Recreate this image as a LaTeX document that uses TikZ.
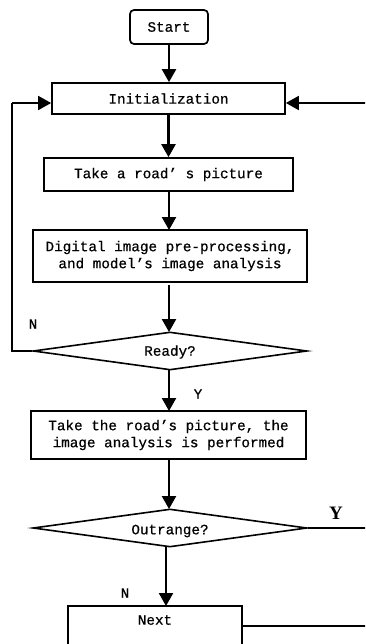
\documentclass[tikz,border=0pt]{standalone}
\usepackage{fontspec}
\newfontfamily\lblfont[FakeBold=0.6]{Liberation Mono}
\newfontfamily\yfont{Liberation Serif}
\usetikzlibrary{arrows.meta,shapes.geometric}
\begin{document}
\begin{tikzpicture}[x=1pt,y=-1pt,
  every node/.style={font=\lblfont\fontsize{14.3}{17}\selectfont,inner sep=0pt},
  box/.style={draw,line width=1.7pt,rectangle},
  dia/.style={draw,line width=1.6pt,diamond,aspect=7},
  flow/.style={line width=2.4pt,-{Triangle[length=13pt,width=14pt]}},
  loop/.style={line width=1.5pt}]
\useasboundingbox (0,0) rectangle (365,644);
\fill[white] (0,0) rectangle (365,644);
\clip (0,0) rectangle (365,644);

\node[box,rounded corners=4pt,minimum width=78pt,minimum height=34pt] (start) at (169,27) {Start};
\node[box,minimum width=233pt,minimum height=31pt] (init) at (168.5,98.5) {Initialization};
\node[box,minimum width=249pt,minimum height=33pt] (take) at (168.5,174.5) {Take a road’ s picture};
\node[box,minimum width=274pt,minimum height=52pt,align=center] (dig) at (170,256) {Digital image pre-processing,\\and model’s image analysis};
\node[dia,minimum width=274pt,minimum height=38pt] (ready) at (170,351) {};
\node (readyt) at (170,352) {Ready?};
\node[box,minimum width=275pt,minimum height=48pt,align=center] (road) at (168.5,435) {Take the road’s picture, the\\image analysis is performed};
\node[dia,minimum width=274pt,minimum height=38pt] (out) at (170,528) {};
\node (outt) at (170,531) {Outrange?};
\node[box,minimum width=174pt,minimum height=80pt] (next) at (155,646) {};
\node (nextt) at (155,620) {Next};

\coordinate (rin) at (366,103);
\coordinate (lft) at (12,351);
\coordinate (rout) at (366,528);
\coordinate (rnext) at (366,626);
\coordinate (oa) at (166,547);

\draw[flow] (start) -- (start |- init.north);
\draw[flow] (init) -- (init |- take.north);
\draw[flow] (169,191) -- (169,230);
\draw[flow] (169,285) -- (169,332);
\draw[flow] (169,370) -- (169,411);
\draw[flow] (169,459) -- (169,509);
\draw[flow] (oa) -- (166,606);

\draw[loop] (ready.west) -- (lft) |- (12,103);
\draw[flow,line width=1.8pt] (12,103) -- (init.west |- 0,103);
\draw[flow,line width=1.8pt] (rin) -- (init.east |- rin);
\draw[loop] (out.east) -- (rout);
\draw[loop] (next.east |- rnext) -- (rnext);

\node (n1) at (33,324) {N};
\node (y1) at (198,394) {Y};
\node[font=\yfont\fontsize{19}{22}\selectfont\bfseries] (y2) at (336,513) {Y};
\node (n2) at (125,593) {N};
\end{tikzpicture}
\end{document}
